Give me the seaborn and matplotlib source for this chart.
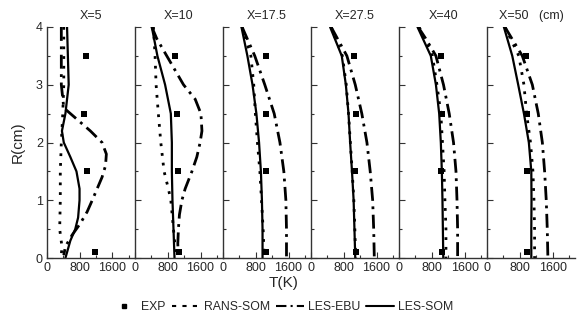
import numpy as np
import pandas as pd
import matplotlib
matplotlib.use("Agg")
import matplotlib.pyplot as plt
from matplotlib.ticker import MultipleLocator, FixedLocator
from matplotlib.lines import Line2D
import seaborn as sns

sns.set_style("white")
plt.rcParams['font.family'] = ['Liberation Sans', 'DejaVu Sans']

titles = ["X=5", "X=10", "X=17.5", "X=27.5", "X=40", "X=50   (cm)"]

# EXP data
exp_r = [0.1, 1.5, 2.5, 3.5]
exp_t = [
    [1170, 980, 900, 965],
    [1085, 1060, 1020, 980],
    [1060, 1060, 1045, 1038],
    [1095, 1080, 1095, 1060],
    [1060, 1020, 1045, 1020],
    [965, 965, 980, 940],
]

# RANS-SOM (dotted)
rans_r = [
    [4, 3, 2.5, 2, 1.5, 1, 0.5, 0.2, 0.05],
    [4, 3.5, 3, 2.5, 2, 1.5, 1.2, 1, 0.5, 0],
    [4, 3.5, 3, 2.5, 2, 1.5, 1, 0.5, 0],
    [4, 3.5, 3, 2.5, 2, 1.5, 1, 0.5, 0],
    [4, 3.5, 3, 2.5, 2, 1.5, 1, 0.5, 0],
    [4, 3.5, 3, 2.5, 2, 1.5, 1, 0.5, 0],
]
rans_t = [
    [410, 410, 385, 350, 325, 325, 310, 365, 350],
    [450, 490, 515, 570, 630, 710, 815, 875, 940, 1005],
    [465, 680, 750, 790, 840, 900, 940, 980, 1005],
    [490, 765, 860, 915, 960, 1005, 1045, 1070, 1090],
    [490, 815, 925, 1020, 1060, 1100, 1120, 1145, 1145],
    [435, 775, 900, 965, 1060, 1120, 1145, 1160, 1160],
]

# LES-EBU (dash-dot)
ebu_r = [
    [4, 3, 2.6, 2.4, 2.2, 2, 1.8, 1.6, 1.4, 1.2, 1, 0.8, 0.6, 0.4, 0.2, 0.05],
    [4, 3.8, 3.5, 3, 2.75, 2.5, 2.2, 2, 1.75, 1.5, 1.2, 1, 0.75, 0.5, 0.25, 0],
    [4, 3.5, 3, 2.5, 2, 1.5, 1, 0.5, 0],
    [4, 3.5, 3, 2.5, 2, 1.5, 1, 0.5, 0],
    [4, 3.8, 3.5, 3, 2.5, 2, 1.5, 1, 0.5, 0],
    [4, 3.5, 3, 2.5, 2, 1.5, 1, 0.5, 0],
]
ebu_t = [
    [350, 350, 410, 735, 1060, 1345, 1450, 1430, 1345, 1225, 1105, 980, 815, 615, 450, 410],
    [410, 530, 775, 1185, 1470, 1610, 1635, 1590, 1510, 1390, 1225, 1145, 1085, 1060, 1045, 1060],
    [465, 775, 1020, 1250, 1390, 1485, 1535, 1550, 1550],
    [490, 875, 1080, 1240, 1365, 1445, 1505, 1530, 1545],
    [465, 650, 900, 1085, 1225, 1330, 1390, 1415, 1430, 1430],
    [435, 860, 1105, 1250, 1350, 1405, 1445, 1470, 1485],
]

# LES-SOM (solid)
som_r = [
    [4, 3, 2.5, 2.2, 2, 1.75, 1.5, 1.2, 1, 0.7, 0.5, 0.3, 0.1, 0],
    [4, 3.5, 3, 2.5, 2, 1.5, 1, 0.5, 0],
    [4, 3.5, 3, 2.5, 2, 1.5, 1, 0.5, 0],
    [4, 3.5, 3, 2.5, 2, 1.5, 1, 0.5, 0],
    [4, 3.5, 3, 2.5, 2, 1.5, 1, 0.5, 0],
    [4, 3.5, 3, 2.5, 2, 1.5, 1, 0.5, 0],
]
som_t = [
    [490, 530, 450, 365, 410, 570, 720, 795, 795, 760, 690, 570, 490, 450],
    [410, 547, 735, 875, 900, 900, 915, 940, 965],
    [450, 595, 720, 815, 880, 925, 950, 965, 965],
    [465, 750, 850, 915, 955, 1000, 1040, 1060, 1080],
    [450, 775, 900, 980, 1020, 1045, 1060, 1070, 1080],
    [410, 615, 760, 900, 1020, 1080, 1085, 1080, 1080],
]

xticks = [0, 800, 1600]

fig, axes = plt.subplots(1, 6, figsize=(5.78, 3.25), dpi=100, sharey=True)
fig.subplots_adjust(left=0.0813, right=0.995, bottom=0.206, top=0.917, wspace=0)

dot_ls = (0, (1, 2.5))
dd_ls = (0, (5, 2, 1, 2))

for i, ax in enumerate(axes):
    d_rans = pd.DataFrame({"T": rans_t[i], "R": rans_r[i]})
    d_ebu = pd.DataFrame({"T": ebu_t[i], "R": ebu_r[i]})
    d_som = pd.DataFrame({"T": som_t[i], "R": som_r[i]})
    d_exp = pd.DataFrame({"T": exp_t[i], "R": exp_r})
    sns.lineplot(data=d_rans, x="T", y="R", sort=False, ax=ax, color="black",
                 linewidth=2.0, linestyle=dot_ls, estimator=None)
    sns.lineplot(data=d_ebu, x="T", y="R", sort=False, ax=ax, color="black",
                 linewidth=2.0, linestyle=dd_ls, estimator=None)
    sns.lineplot(data=d_som, x="T", y="R", sort=False, ax=ax, color="black",
                 linewidth=1.6, linestyle="-", estimator=None)
    sns.scatterplot(data=d_exp, x="T", y="R", ax=ax, color="black", marker="s",
                    s=16, edgecolor="black", linewidth=0, zorder=5)
    ax.set_xlim(0, 2150)
    ax.set_ylim(0, 4)
    ax.set_xticks(xticks)
    ax.xaxis.set_minor_locator(FixedLocator([400, 1200, 2000]))
    ax.yaxis.set_major_locator(MultipleLocator(1))
    ax.yaxis.set_minor_locator(MultipleLocator(0.5))
    ax.tick_params(axis="both", which="major", direction="in", length=4, width=0.8,
                   labelsize=9, color="#333333", pad=3)
    ax.tick_params(axis="both", which="minor", direction="in", length=2.5, width=0.8,
                   color="#333333")
    ax.tick_params(axis="x", which="both", bottom=True)
    ax.tick_params(axis="y", which="both", left=True)
    for side in ["top", "right"]:
        ax.spines[side].set_visible(False)
    for side in ["left", "bottom"]:
        ax.spines[side].set_color("#333333")
        ax.spines[side].set_linewidth(1.0)
    ax.set_xlabel("")
    ax.set_ylabel("")
    ax.set_title(titles[i], fontsize=9, pad=6)
    if i > 0:
        ax.tick_params(axis="y", labelleft=False)

axes[0].set_ylabel("R(cm)", fontsize=11, labelpad=8)
fig.text(0.49, 0.13, "T(K)", ha="center", va="center", fontsize=11)

handles = [
    Line2D([], [], color="black", marker="s", markersize=3.5, linestyle="none"),
    Line2D([], [], color="black", linestyle=(0, (2, 3)), linewidth=1.5),
    Line2D([], [], color="black", linestyle=(0, (5, 2, 1, 2)), linewidth=1.5),
    Line2D([], [], color="black", linestyle="-", linewidth=1.5),
]
labels = ["EXP", "RANS-SOM", "LES-EBU", "LES-SOM"]
fig.legend(handles, labels, loc="center", bbox_to_anchor=(0.487, 0.055), ncol=4,
           frameon=False, fontsize=8.8, handlelength=2.3, handletextpad=0.3,
           columnspacing=0.5)

fig.savefig("out.png", dpi=100)
